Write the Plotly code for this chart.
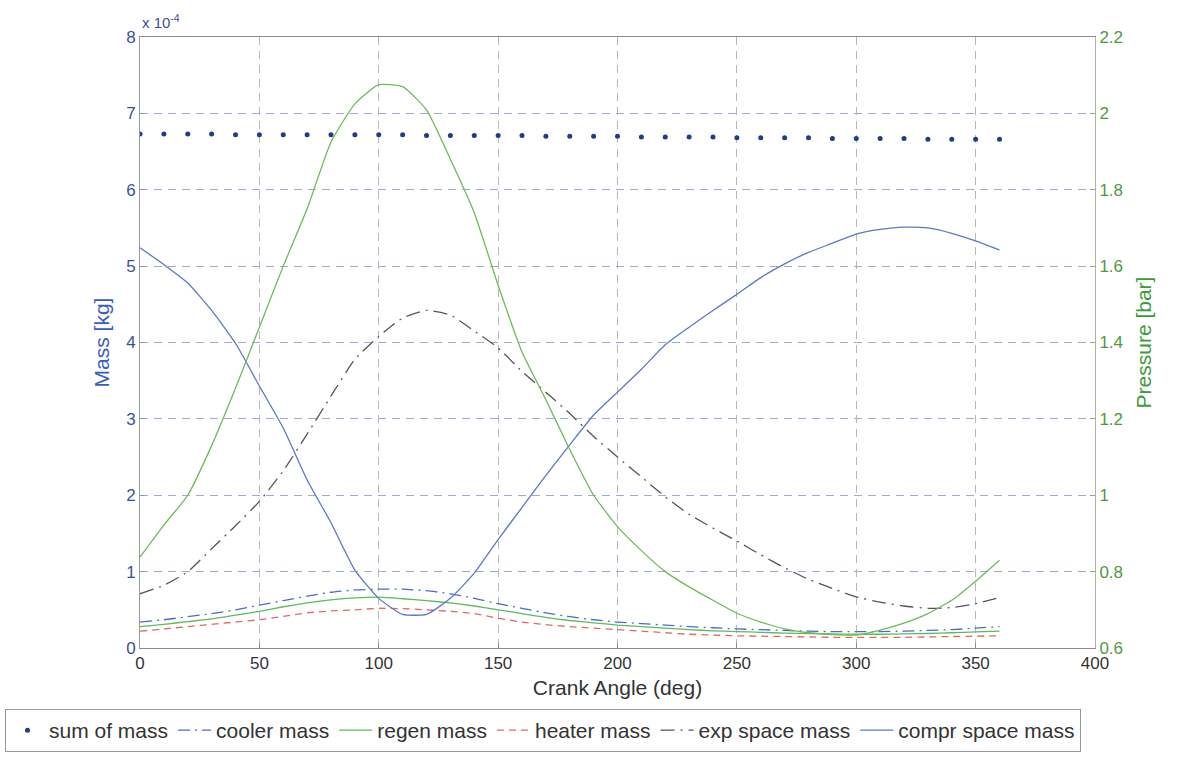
import plotly.graph_objects as go

# Crank angle samples (deg)
angle_deg = [0, 10, 20, 30, 40, 50, 60, 70, 80, 90, 100, 110, 120, 130, 140, 150, 160, 170, 180,
             190, 200, 210, 220, 230, 240, 250, 260, 270, 280, 290, 300, 310, 320, 330, 340, 350, 360]

# Masses in units of 1e-4 kg
sum_mass = [6.73, 6.73, 6.73, 6.73, 6.72, 6.72, 6.72, 6.72, 6.72, 6.72, 6.72, 6.72, 6.71, 6.71,
            6.71, 6.71, 6.71, 6.70, 6.70, 6.70, 6.70, 6.69, 6.69, 6.69, 6.69, 6.68, 6.68, 6.68,
            6.68, 6.67, 6.67, 6.67, 6.67, 6.66, 6.66, 6.66, 6.66]
cooler_mass = [0.34, 0.37, 0.41, 0.45, 0.50, 0.56, 0.62, 0.68, 0.73, 0.76, 0.77, 0.77, 0.75, 0.71,
               0.65, 0.58, 0.52, 0.46, 0.41, 0.37, 0.34, 0.32, 0.30, 0.28, 0.265, 0.25, 0.24, 0.23,
               0.22, 0.215, 0.215, 0.215, 0.22, 0.23, 0.24, 0.26, 0.28]
regen_mass = [0.28, 0.31, 0.345, 0.38, 0.43, 0.48, 0.54, 0.59, 0.63, 0.655, 0.665, 0.645, 0.62,
              0.59, 0.55, 0.50, 0.45, 0.40, 0.36, 0.33, 0.30, 0.28, 0.26, 0.24, 0.225, 0.215,
              0.205, 0.195, 0.19, 0.185, 0.18, 0.18, 0.185, 0.19, 0.20, 0.21, 0.22]
heater_mass = [0.22, 0.25, 0.28, 0.31, 0.34, 0.37, 0.415, 0.46, 0.485, 0.50, 0.52, 0.515, 0.50,
               0.48, 0.45, 0.39, 0.34, 0.305, 0.28, 0.26, 0.24, 0.22, 0.20, 0.18, 0.17, 0.16,
               0.155, 0.15, 0.145, 0.14, 0.14, 0.14, 0.14, 0.145, 0.15, 0.155, 0.16]
exp_space_mass = [0.71, 0.82, 1.00, 1.30, 1.60, 1.92, 2.32, 2.80, 3.30, 3.78, 4.08, 4.32, 4.42,
                  4.36, 4.15, 3.93, 3.62, 3.35, 3.07, 2.77, 2.50, 2.24, 1.98, 1.75, 1.57, 1.40,
                  1.22, 1.05, 0.90, 0.78, 0.67, 0.60, 0.55, 0.52, 0.53, 0.58, 0.66]
compr_space_mass = [5.24, 5.02, 4.78, 4.42, 3.99, 3.43, 2.88, 2.20, 1.64, 1.02, 0.65, 0.44, 0.44,
                    0.65, 0.98, 1.42, 1.84, 2.26, 2.66, 3.05, 3.35, 3.65, 3.97, 4.20, 4.42, 4.63,
                    4.85, 5.03, 5.18, 5.30, 5.42, 5.48, 5.51, 5.50, 5.43, 5.33, 5.21]

# Working-gas pressure (bar), right axis
pressure_bar = [0.838, 0.922, 1.00, 1.13, 1.28, 1.44, 1.60, 1.75, 1.925, 2.025, 2.075, 2.07, 2.009,
                1.88, 1.74, 1.55, 1.375, 1.25, 1.12, 1.00, 0.918, 0.855, 0.80, 0.76, 0.725, 0.691,
                0.668, 0.65, 0.64, 0.635, 0.634, 0.647, 0.665, 0.69, 0.725, 0.775, 0.83]

x_ticks = [0, 50, 100, 150, 200, 250, 300, 350, 400]
mass_ticks = [0, 1, 2, 3, 4, 5, 6, 7, 8]
pressure_ticks = [0.6, 0.8, 1.0, 1.2, 1.4, 1.6, 1.8, 2.0, 2.2]

FONT = "Liberation Sans, Arial, sans-serif"
BLUE_TXT = "#3d4f9c"
GREEN_TXT = "#4f9a3c"
SMOOTH = 0.5

# plot-area geometry in pixels (used to place the legend below the axes)
W, H = 1181, 757
ML, MR, MT, MB = 140, 86, 37, 109
PW, PH = W - ML - MR, H - MT - MB

fig = go.Figure()

fig.add_trace(go.Scatter(x=angle_deg, y=sum_mass, name="sum of mass", mode="markers",
                         marker=dict(size=5, color="#1c3c8c")))
fig.add_trace(go.Scatter(x=angle_deg, y=cooler_mass, name="cooler mass", mode="lines",
                         line=dict(color="#4a6cc4", width=1.3, dash="12px,5px,2px,5px",
                                   shape="spline", smoothing=SMOOTH)))
fig.add_trace(go.Scatter(x=angle_deg, y=regen_mass, name="regen mass", mode="lines",
                         line=dict(color="#5cbb5c", width=1.3, shape="spline", smoothing=SMOOTH)))
fig.add_trace(go.Scatter(x=angle_deg, y=heater_mass, name="heater mass", mode="lines",
                         line=dict(color="#e06868", width=1.3, dash="7px,5px",
                                   shape="spline", smoothing=SMOOTH)))
fig.add_trace(go.Scatter(x=angle_deg, y=exp_space_mass, name="exp space mass", mode="lines",
                         line=dict(color="#555555", width=1.3, dash="14px,6px,2px,6px",
                                   shape="spline", smoothing=SMOOTH)))
fig.add_trace(go.Scatter(x=angle_deg, y=compr_space_mass, name="compr space mass", mode="lines",
                         line=dict(color="#5a78c4", width=1.3, shape="spline", smoothing=SMOOTH)))
fig.add_trace(go.Scatter(x=angle_deg, y=pressure_bar, name="pressure", mode="lines",
                         yaxis="y2", showlegend=False,
                         line=dict(color="#6cbb5a", width=1.3, shape="spline", smoothing=SMOOTH)))

fig.update_layout(
    width=W, height=H,
    margin=dict(l=ML, r=MR, t=MT, b=MB, autoexpand=False),
    paper_bgcolor="white", plot_bgcolor="white",
    font=dict(family=FONT, size=17, color="#333333"),
    xaxis=dict(
        range=[0, 400], tickvals=x_ticks, ticktext=[str(v) for v in x_ticks],
        showgrid=True, gridcolor="#b8b8b8", griddash="8px,6px", gridwidth=1,
        showline=True, mirror=True, linecolor="#8c8c8c", linewidth=1,
        ticks="inside", ticklen=5, tickcolor="#8c8c8c",
        zeroline=False,
        tickfont=dict(size=17, color="#333333"),
        title=dict(text="Crank Angle (deg)", font=dict(size=21, color="#333333"), standoff=7),
    ),
    yaxis=dict(
        range=[0, 8], tickvals=mass_ticks, ticktext=[str(v) for v in mass_ticks],
        showgrid=True, gridcolor="#9cacd0", griddash="8px,6px", gridwidth=1,
        showline=True, linecolor="#9a9a9a", linewidth=1,
        ticks="inside", ticklen=5, tickcolor="#8a94b8",
        zeroline=False,
        tickfont=dict(size=17, color=BLUE_TXT),
        title=dict(text="Mass [kg]", font=dict(size=21, color="#3b5cc0"), standoff=10),
    ),
    yaxis2=dict(
        range=[0.6, 2.2], tickvals=pressure_ticks,
        ticktext=["0.6", "0.8", "1", "1.2", "1.4", "1.6", "1.8", "2", "2.2"],
        overlaying="y", side="right",
        showgrid=False, showline=True, linecolor="#a8b8a0", linewidth=1,
        ticks="inside", ticklen=5, tickcolor="#8aa880",
        zeroline=False,
        tickfont=dict(size=17, color=GREEN_TXT),
        title=dict(text="Pressure [bar]", font=dict(size=21, color="#3f9a3a"), standoff=14),
    ),
    legend=dict(
        orientation="h", xref="paper", yref="paper",
        x=(5 - ML) / PW, y=(MT + PH - 709) / PH, xanchor="left", yanchor="top",
        bordercolor="#9a9a9a", borderwidth=1, bgcolor="white",
        font=dict(size=21, color="#333333"), itemwidth=33,
        tracegroupgap=0,
    ),
    annotations=[
        dict(text="x 10<sup>-4</sup>", xref="paper", yref="paper", x=0, y=1,
             xanchor="left", yanchor="bottom", yshift=4, showarrow=False,
             font=dict(size=15, color=BLUE_TXT)),
    ],
)

fig.write_html("out.html")
